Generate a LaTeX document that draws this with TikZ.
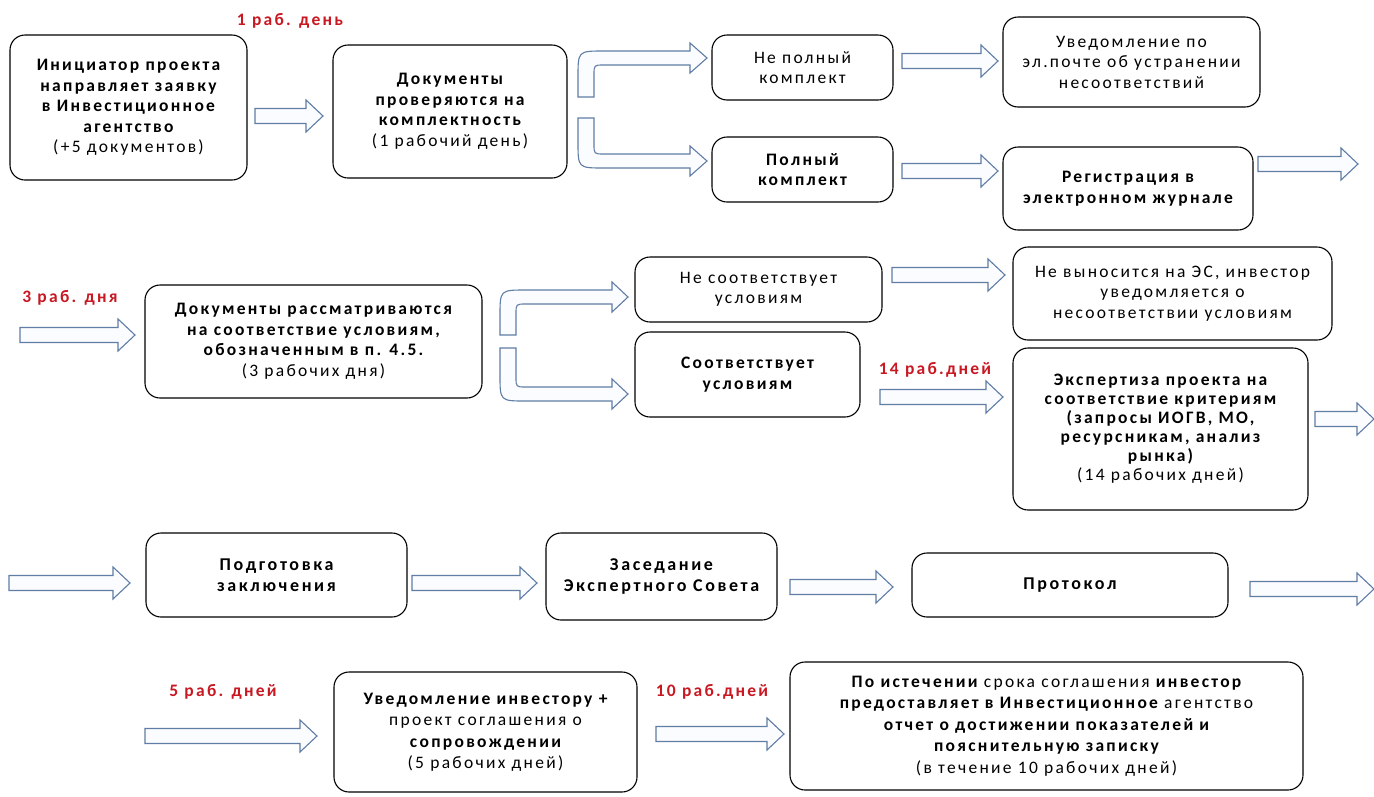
\documentclass[tikz,border=0pt]{standalone}
\usepackage{fontspec}
\setmainfont{Carlito}
\newfontfamily\widefont{Carlito}[LetterSpace=13]
\newfontfamily\widerfont{Carlito}[LetterSpace=14.5]
\definecolor{arrowc}{RGB}{95,125,165}
\definecolor{redl}{RGB}{200,25,35}
\tikzset{
  box/.style={draw=black, line width=1.1pt, rounded corners=15pt, align=center, inner sep=0pt,
    font=\widefont\fontsize{17.5}{20.5}\selectfont\bfseries},
  regbox/.style={box, font=\widefont\fontsize{17.5}{20.5}\selectfont\mdseries},
  lowbox/.style={box, font=\widerfont\fontsize{18}{21.5}\selectfont\bfseries},
  botbox/.style={box, font=\widefont\fontsize{17.5}{21.5}\selectfont\bfseries},
  barr/.style={draw=arrowc, line width=1.1pt, fill={rgb,255:red,251;green,252;blue,255}, line join=miter},
  lbl/.style={text=redl, font=\widefont\fontsize{17.5}{20}\selectfont\bfseries, inner sep=0pt},
}
% straight block arrow: x1, x2 (tip), y centre
\newcommand\barrow[3]{%
  \draw[barr] (#1,#3-7.5) -- (#2-17,#3-7.5) -- (#2-17,#3-16) -- (#2,#3)
    -- (#2-17,#3+16) -- (#2-17,#3+7.5) -- (#1,#3+7.5) -- cycle;}
% bent block arrow: xo, xi, ystart, youter, yinner, xhead, xtip, sign
\newcommand\bentarrow[8]{%
  \draw[barr] (#1,#3) -- (#1,#4+#8*26) .. controls (#1,#4) .. (#1+26,#4)
    -- (#6,#4) -- (#6,#4-#8*8) -- (#7,{(#4+#5)/2}) -- (#6,#5+#8*8) -- (#6,#5)
    -- (#2+10,#5) .. controls (#2,#5) .. (#2,#5+#8*10) -- (#2,#3) -- cycle;}
\begin{document}
\begin{tikzpicture}[x=1pt,y=-1pt]
\useasboundingbox[fill=white] (0,0) rectangle (1374,796);

% ---------- row 1
\node[lbl] (l1) at (290,21) {1 раб. день};
\node[box, minimum width=237pt, minimum height=145pt] (b1) at (128.5,107.5)
  {Инициатор проекта\\направляет заявку\\в Инвестиционное\\агентство\\\mdseries(+5 документов)};
\node[box, minimum width=234pt, minimum height=133pt] (b2) at (450,111.5)
  {Документы\\проверяются на\\комплектность\\\mdseries(1 рабочий день)};
\node[regbox, minimum width=181pt, minimum height=65pt] (b3) at (802.5,67.5)
  {Не полный\\комплект};
\node[regbox, minimum width=257pt, minimum height=90pt] (b4) at (1131.5,62)
  {Уведомление по\\эл.почте об устранении\\несоответствий};
\node[box, minimum width=181pt, minimum height=65pt] (b5) at (802.5,169.5)
  {Полный\\комплект};
\node[box, minimum width=250pt, minimum height=83pt] (b6) at (1128,188.5)
  {Регистрация в\\электронном журнале};

\barrow{255}{323}{116}
\bentarrow{578}{594}{97}{51}{65}{690}{707}{1}
\bentarrow{578}{594}{118}{168}{154}{690}{707}{-1}
\barrow{902}{998}{61}
\barrow{902}{998}{171}
\barrow{1258}{1358}{164}

% ---------- row 2
\node[lbl] (l2) at (70,298) {3 раб. дня};
\barrow{20}{135}{335}
\node[box, minimum width=337pt, minimum height=113pt] (b7) at (313.5,341.5)
  {Документы рассматриваются\\на соответствие условиям,\\обозначенным в п. 4.5.\\\mdseries(3 рабочих дня)};
\bentarrow{500}{516}{335}{290}{304}{612}{628}{1}
\bentarrow{500}{516}{348}{401}{387}{612}{628}{-1}
\node[regbox, minimum width=247pt, minimum height=65pt] (b8) at (758.5,289.5)
  {Не соответствует\\условиям};
\node[box, minimum width=225pt, minimum height=85pt] (b9) at (747.5,374.5)
  {Соответствует\\условиям};
\barrow{892}{1005}{275}
\node[regbox, minimum width=319pt, minimum height=93pt] (b10) at (1172.5,293.5)
  {Не выносится на ЭС, инвестор\\уведомляется о\\несоответствии условиям};
\node[lbl] (l3) at (935,370) {14 раб.дней};
\barrow{880}{1003}{397}
\node[box, minimum width=295pt, minimum height=162pt,
      font=\widefont\fontsize{17.5}{19}\selectfont\bfseries] (b11) at (1160.5,429)
  {Экспертиза проекта на\\соответствие критериям\\(запросы ИОГВ, МО,\\ресурсникам, анализ\\рынка)\\\mdseries(14 рабочих дней)};
\barrow{1315}{1374}{419}

% ---------- row 3
\barrow{9}{130}{583}
\node[lowbox, minimum width=261pt, minimum height=84pt] (b12) at (276.5,575)
  {Подготовка\\заключения};
\barrow{412}{537}{583}
\node[lowbox, minimum width=231pt, minimum height=87pt] (b13) at (661.5,576.5)
  {Заседание\\Экспертного Совета};
\barrow{790}{893}{587}
\node[lowbox, minimum width=316pt, minimum height=64pt] (b14) at (1070,585)
  {Протокол};
\barrow{1250}{1374}{589}

% ---------- row 4
\node[lbl] (l4) at (223,692) {5 раб. дней};
\barrow{145}{317}{736}
\node[botbox, minimum width=303pt, minimum height=120pt] (b15) at (485.5,732)
  {Уведомление инвестору +\\\mdseries проект соглашения о\\сопровождении\\\mdseries(5 рабочих дней)};
\node[lbl] (l5) at (712,692) {10 раб.дней};
\barrow{656}{784}{734}
\node[botbox, minimum width=513pt, minimum height=128pt] (b16) at (1046.5,726)
  {По истечении {\mdseries срока соглашения} инвестор\\предоставляет в Инвестиционное {\mdseries агентство}\\отчет о достижении показателей и\\пояснительную записку\\\mdseries(в течение 10 рабочих дней)};
\end{tikzpicture}
\end{document}
